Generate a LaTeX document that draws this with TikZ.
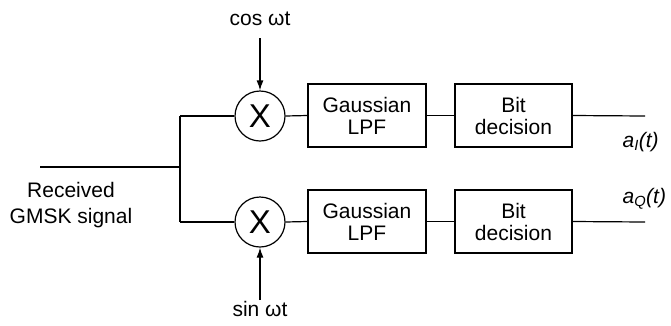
\documentclass[tikz,border=0pt]{standalone}
\usepackage{fontspec}
\setmainfont{Liberation Sans}
\usetikzlibrary{arrows.meta}
\begin{document}
\begin{tikzpicture}[x=1pt,y=-1pt,
  line width=1.2pt,
  every node/.style={font=\fontsize{21}{22}\selectfont},
  blk/.style={draw,rectangle,minimum width=118pt,minimum height=63pt,align=center,inner sep=0pt},
  mix/.style={draw,circle,minimum size=50pt,inner sep=0pt,font=\fontsize{33}{33}\selectfont},
  lbl/.style={anchor=base,inner sep=0pt},
  arr/.style={-{Latex[length=10pt,width=7pt]}}]
\useasboundingbox (0,0) rectangle (671,325);
% mixers
\node[mix] (m1) at (260,116) {X};
\node[mix] (m2) at (260,222) {X};
% blocks
\node[blk] (l1) at (367,115.5) {Gaussian\\LPF};
\node[blk,minimum width=117pt] (b1) at (513.5,115.5) {Bit\\decision};
\node[blk] (l2) at (367,221.5) {Gaussian\\LPF};
\node[blk,minimum width=117pt] (b2) at (513.5,221.5) {Bit\\decision};
% coordinates
\coordinate (in) at (40,167);
\coordinate (j) at (180,167);
\coordinate (jt) at (180,116);
\coordinate (jb) at (180,222);
\coordinate (o1) at (645,116);
\coordinate (o2) at (645,222);
\coordinate (c1) at (260,38);
\coordinate (c2) at (260,300);
% lines
\draw (in) -- (j);
\draw (jt) -- (jb);
\draw (jt) -- (m1.west);
\draw (jb) -- (m2.west);
\draw (m1.east) -- (l1.west);
\draw (l1.east) -- (b1.west);
\draw (b1.east) -- (o1);
\draw (m2.east) -- (l2.west);
\draw (l2.east) -- (b2.west);
\draw (b2.east) -- (o2);
\draw[arr] (c1) -- (m1.north);
\draw[arr] (c2) -- (m2.south);
% labels
\node[lbl] (cos) at (260,25) {cos ωt};
\node[lbl] (sin) at (260,316.5) {sin ωt};
\node[lbl,align=center,font=\fontsize{21}{25.6}\selectfont] (rx) at (71,223.3) {Received\\GMSK signal};
\node[lbl,anchor=base west] (aI) at (622,147) {\itshape a\textsubscript{I}(t)};
\node[lbl,anchor=base west] (aQ) at (622,203) {\itshape a\textsubscript{Q}(t)};
\end{tikzpicture}
\end{document}
